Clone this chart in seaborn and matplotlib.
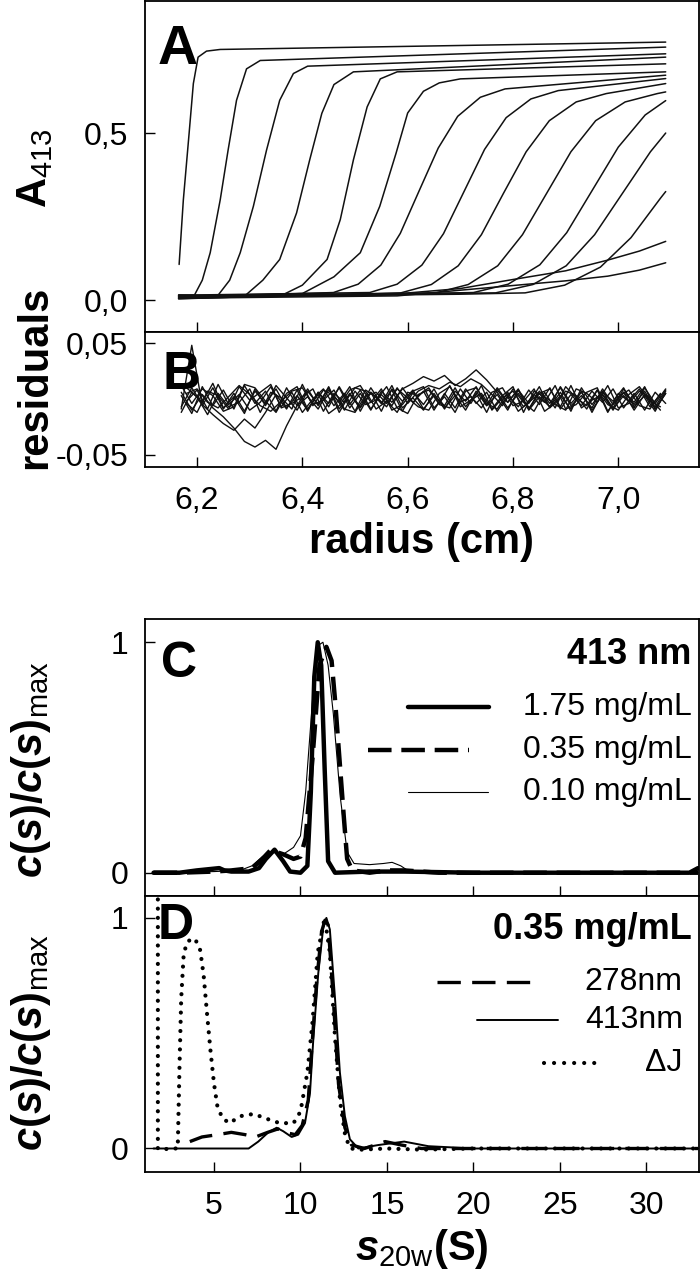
import numpy as np
import pandas as pd
import seaborn as sns
import matplotlib.pyplot as plt

sns.set_theme(style='ticks')
plt.rcParams['font.family'] = ['Liberation Sans', 'DejaVu Sans']
plt.rcParams['mathtext.fontset'] = 'custom'
plt.rcParams['mathtext.rm'] = 'Liberation Sans'
plt.rcParams['mathtext.bf'] = 'Liberation Sans:bold'
plt.rcParams['mathtext.it'] = 'Liberation Sans:italic'
plt.rcParams['mathtext.bfit'] = 'Liberation Sans:italic:bold'
plt.rcParams['text.color'] = 'black'
plt.rcParams['axes.labelcolor'] = 'black'

# ---- panel A : sedimentation boundaries (radius in cm, A413) ----
scan01_r = [6.166, 6.174, 6.185, 6.193, 6.202, 6.218, 6.244, 7.09]
scan01_a = [0.107, 0.300, 0.500, 0.648, 0.727, 0.745, 0.750, 0.772]
scan02_r = [6.165, 6.195, 6.210, 6.225, 6.244, 6.259, 6.275, 6.294, 6.32, 7.09]
scan02_a = [0.014, 0.015, 0.060, 0.142, 0.300, 0.449, 0.598, 0.692, 0.717, 0.757]
scan03_r = [6.165, 6.240, 6.262, 6.282, 6.307, 6.332, 6.357, 6.383, 6.41, 7.09]
scan03_a = [0.006, 0.015, 0.060, 0.142, 0.281, 0.449, 0.598, 0.678, 0.700, 0.737]
scan04_r = [6.165, 6.290, 6.325, 6.357, 6.389, 6.414, 6.437, 6.460, 6.497, 7.09]
scan04_a = [0.016, 0.012, 0.060, 0.122, 0.261, 0.420, 0.559, 0.645, 0.683, 0.727]
scan05_r = [6.165, 6.360, 6.400, 6.447, 6.472, 6.497, 6.523, 6.548, 6.58, 7.09]
scan05_a = [0.004, 0.014, 0.045, 0.122, 0.241, 0.420, 0.578, 0.662, 0.683, 0.707]
scan06_r = [6.165, 6.400, 6.460, 6.510, 6.547, 6.578, 6.600, 6.630, 6.660, 6.70, 7.09]
scan06_a = [0.012, 0.020, 0.070, 0.142, 0.281, 0.440, 0.560, 0.625, 0.650, 0.662, 0.683]
scan07_r = [6.165, 6.459, 6.506, 6.549, 6.586, 6.622, 6.658, 6.695, 6.738, 6.785, 7.09]
scan07_a = [0.008, 0.023, 0.048, 0.105, 0.200, 0.328, 0.455, 0.550, 0.607, 0.632, 0.673]
scan08_r = [6.165, 6.528, 6.580, 6.627, 6.668, 6.707, 6.746, 6.787, 6.834, 6.886, 7.09]
scan08_a = [0.015, 0.023, 0.048, 0.105, 0.199, 0.325, 0.451, 0.546, 0.602, 0.627, 0.663]
scan09_r = [6.165, 6.587, 6.645, 6.696, 6.740, 6.782, 6.825, 6.869, 6.920, 6.977, 7.09]
scan09_a = [0.005, 0.022, 0.047, 0.103, 0.196, 0.320, 0.444, 0.537, 0.593, 0.618, 0.648]
scan10_r = [6.165, 6.654, 6.715, 6.771, 6.818, 6.864, 6.910, 6.957, 7.013, 7.074, 7.09]
scan10_a = [0.011, 0.022, 0.047, 0.103, 0.196, 0.320, 0.444, 0.537, 0.593, 0.618, 0.623]
scan11_r = [6.165, 6.725, 6.791, 6.851, 6.902, 6.951, 7.000, 7.051, 7.09]
scan11_a = [0.007, 0.023, 0.048, 0.106, 0.202, 0.330, 0.458, 0.554, 0.597]
scan12_r = [6.165, 6.767, 6.838, 6.901, 6.955, 7.008, 7.061, 7.09]
scan12_a = [0.013, 0.022, 0.047, 0.103, 0.196, 0.320, 0.444, 0.500]
scan13_r = [6.165, 6.700, 6.823, 6.898, 6.966, 7.024, 7.080, 7.09]
scan13_a = [0.009, 0.018, 0.022, 0.045, 0.099, 0.187, 0.305, 0.325]
scan14_r = [6.165, 6.550, 6.700, 6.800, 6.900, 6.980, 7.040, 7.09]
scan14_a = [0.012, 0.015, 0.035, 0.062, 0.088, 0.120, 0.147, 0.176]
scan15_r = [6.165, 6.580, 6.700, 6.800, 6.900, 6.980, 7.040, 7.09]
scan15_a = [0.006, 0.013, 0.030, 0.044, 0.058, 0.072, 0.090, 0.112]

# ---- panel B : fit residuals (values in units of 0.001) ----
res_r = [6.17, 6.19, 6.21, 6.23, 6.25, 6.27, 6.29, 6.31, 6.33, 6.35, 6.37, 6.39,
         6.41, 6.43, 6.45, 6.47, 6.49, 6.51, 6.53, 6.55, 6.57, 6.59, 6.61, 6.63,
         6.65, 6.67, 6.69, 6.71, 6.73, 6.75, 6.77, 6.79, 6.81, 6.83, 6.85, 6.87,
         6.89, 6.91, 6.93, 6.95, 6.97, 6.99, 7.01, 7.03, 7.05, 7.07, 7.09]
res_r2 = [6.18, 6.20, 6.22, 6.24, 6.26, 6.28, 6.30, 6.32, 6.34, 6.36, 6.38, 6.40,
          6.42, 6.44, 6.46, 6.48, 6.50, 6.52, 6.54, 6.56, 6.58, 6.60, 6.62, 6.64,
          6.66, 6.68, 6.70, 6.72, 6.74, 6.76, 6.78, 6.80, 6.82, 6.84, 6.86, 6.88,
          6.90, 6.92, 6.94, 6.96, 6.98, 7.00, 7.02, 7.04, 7.06, 7.08]
res1 = [-9, 48, -6, 10, -9, 5, -11, 7, -4, 9, -8, 3, -10, 6, -7, 11, -5, 8, -9, 4,
        -6, 10, -3, 7, -10, 5, -8, 9, -4, 6, -11, 3, -7, 8, -5, 10, -9, 4, -6, 7,
        -3, 9, -8, 5, -10, 6, -4]
res2 = [6, -10, 4, -8, -16, -26, -38, -43, -37, -45, -24, -6, 9, -6, 11, -9, 5, -7,
        10, -4, 8, -11, 6, -5, 9, -8, 3, -10, 7, -6, 10, -3, 8, -9, 5, -7, 11, -4,
        6, -10, 4, -8, 9, -5, 7, -9, 5]
res3 = [-7, 10, -5, -14, -22, -28, -18, -26, -12, 4, -9, 8, -11, 6, -4, 10, -8, 5,
        -10, 7, -3, 9, 14, 20, 16, 21, 12, 18, 26, 17, 6, -8, 5, -9, 7, -4, 10, -6,
        3, -8, 9, -5, 6, -10, 4, -7, 8]
res4 = [12, -4, 9, 3, -11, -7, 13, 10, -2, -12, 5, 11, -9, 4, -13, -6, 8, 12, -3, 9,
        -10, -5, 7, 11, -8, 2, -12, 7, 10, -4, -9, 6, -11, -3, 5, 9, -7, 12, -8, -1,
        4, -10, 6, -3, 11, -9, 5]
res5 = [-12, 6, -3, 14, -8, 2, -13, 9, -6, 12, 1, -10, 7, -5, 10, -12, 4, -8, 6,
        -11, 9, -2, 8, -9, 3, -6, 10, -7, 5, -12, 8, -3, 9, -10, 2, -7, 6, -11, 10,
        -5, 7, -9, 3, -8, 10, -4, 9]
res6 = [3, -13, 11, -6, 8, -9, 12, -4, 7, -11, 10, -6, 2, -9, 8, -3, 11, -11, 6, -4,
        12, -8, 1, -10, 5, -9, 7, -2, 11, -6, 4, -10, 8, -4, 11, -8, 3, -9, 7, -12,
        6, -2, 10, -7, 3, -11, 7]
res7 = [5, 9, -3, -8, 2, 12, 4, -6, -11, -2, 7, 10, -5, -1, 8, -9, -12, 3, 6, -4,
        9, 1, -7, -10, 5, 11, -3, 2, -8, 6, 10, -6, -2, 9, -11, -4, 7, 3, -9, 8,
        -5, -10, 4, 11, -2, -7]
res8 = [-4, -12, 7, 3, -9, 11, -1, 6, 13, -8, -4, 2, 9, -11, 5, -3, 10, 7, -9, -2,
        -12, 6, 3, 10, -5, -8, 9, -4, 12, -10, 1, 7, -7, 4, -3, 12, -9, -5, 6, 10,
        -11, 2, 8, -6, -9, 5]
res9 = [10, 2, -14, 5, -7, -3, 9, -12, 6, 1, -9, 13, -6, 8, 3, -10, 7, -5, -1, 11,
        -8, -13, 4, 8, -4, 12, -7, -1, 5, -9, 3, 11, -12, 7, 2, -5, -10, 9, 5, -3,
        12, -8, -4, 7, 1, -10]
res10 = [-2, 8, -9, 13, -5, 4, -10, -3, 11, -7, 6, -12, 0, 9, -6, 5, -11, 8, 2, -7,
         10, -4, 7, 12, 9, 15, 11, 18, 13, 4, -6, 9, -3, -11, 6, -8, 11, 1, -6, 8,
         -12, 5, -2, 9, -7, 4]

# ---- panel C : c(s) at 413 nm, three loading concentrations ----
c175_s = [1.5, 3, 4, 5.3, 5.6, 6, 7, 7.6, 8.0, 8.5, 9.0, 9.4, 10.0, 10.4, 10.6, 10.8,
          11.0, 11.2, 11.4, 11.6, 12, 14, 16, 20, 25, 30, 32.5, 33]
c175_c = [0.0, 0.0, 0.01, 0.02, 0.01, 0.005, 0.005, 0.02, 0.06, 0.10, 0.05, 0.005,
          0.0, 0.03, 0.35, 0.85, 1.0, 0.9, 0.45, 0.05, 0.0, 0.005, 0.005, 0.0, 0.0,
          0.0, 0.0, 0.02]
c035_s = [1.5, 3, 5, 6, 7.2, 7.8, 8.3, 8.6, 9.0, 9.6, 10.0, 10.3, 10.7, 11.1, 11.5,
          11.8, 12.0, 12.3, 12.5, 12.7, 13.0, 14, 15, 16, 18, 20, 25, 30, 33]
c035_c = [0.0, 0.0, 0.005, 0.01, 0.02, 0.06, 0.10, 0.09, 0.08, 0.06, 0.07, 0.15,
          0.50, 0.90, 0.98, 0.92, 0.75, 0.45, 0.25, 0.06, 0.01, 0.0, 0.01, 0.01,
          0.0, 0.0, 0.0, 0.0, 0.0]
c010_s = [1.5, 5, 6.5, 7.2, 7.8, 8.3, 9.0, 9.6, 10.0, 10.3, 10.5, 10.8, 11.1, 11.3,
          11.6, 11.9, 12.3, 12.7, 13.1, 14.0, 14.8, 15.3, 15.8, 16.2, 18, 33]
c010_c = [0.0, 0.005, 0.01, 0.03, 0.07, 0.09, 0.08, 0.11, 0.16, 0.35, 0.55, 0.85,
          0.99, 1.0, 0.90, 0.69, 0.33, 0.09, 0.04, 0.035, 0.04, 0.045, 0.03, 0.01,
          0.0, 0.0]

# ---- panel D : c(s) at 0.35 mg/mL, three detection modes ----
d278_s = [3.6, 4.3, 5.2, 6.0, 6.8, 7.4, 8.1, 8.7, 9.1, 9.7, 10.1, 10.45, 10.65,
          10.93, 11.22, 11.42, 11.6, 11.9, 12.2, 12.57, 12.96, 13.7, 14.9, 15.85,
          17, 20, 25, 30, 33]
d278_c = [0.03, 0.05, 0.06, 0.07, 0.06, 0.05, 0.07, 0.085, 0.07, 0.06, 0.10, 0.21,
          0.43, 0.72, 0.94, 0.99, 0.97, 0.65, 0.28, 0.09, 0.015, 0.0, 0.03, 0.015,
          0.0, 0.0, 0.0, 0.0, 0.0]
d413_s = [1.5, 4, 7.0, 7.56, 8.14, 8.62, 9.0, 9.49, 9.87, 10.26, 10.55, 10.74, 11.03,
          11.32, 11.5, 11.7, 12.0, 12.28, 12.57, 12.86, 13.35, 14.5, 16.0, 17.4,
          20, 25, 30, 33]
d413_c = [0.0, 0.0, 0.0, 0.03, 0.07, 0.09, 0.075, 0.05, 0.06, 0.11, 0.24, 0.47,
          0.76, 0.96, 1.0, 0.95, 0.65, 0.33, 0.14, 0.04, 0.0, 0.015, 0.03, 0.01,
          0.0, 0.0, 0.0, 0.0]
dJ_s = [1.75, 1.75, 1.9, 2.5, 2.9, 3.0, 3.1, 3.25, 3.5, 3.9, 4.2, 4.4, 4.6, 4.8,
        5.0, 5.2, 5.5, 5.9, 6.5, 7.3, 8.0, 8.8, 9.6, 10.0, 10.4, 10.7, 11.0, 11.4,
        11.7, 12.0, 12.3, 12.6, 12.9, 13.5, 15, 17, 20, 25, 30, 33]
dJ_c = [1.12, 0.0, -0.005, 0.0, 0.0, 0.35, 0.65, 0.85, 0.90, 0.91, 0.86, 0.75,
        0.58, 0.42, 0.28, 0.18, 0.13, 0.11, 0.14, 0.15, 0.13, 0.11, 0.11, 0.16,
        0.33, 0.55, 0.85, 1.0, 0.85, 0.48, 0.20, 0.05, 0.0, -0.005, 0.0, -0.005,
        0.0, 0.0, 0.0, 0.0]

fig = plt.figure(figsize=(7, 12.72), dpi=100)
axA = fig.add_axes([0.207, 0.739, 0.7914, 0.2605])
axB = fig.add_axes([0.207, 0.6329, 0.7914, 0.1061])
axC = fig.add_axes([0.207, 0.2956, 0.7914, 0.2178])
axD = fig.add_axes([0.207, 0.0786, 0.7914, 0.2170])

scans = [(scan01_r, scan01_a), (scan02_r, scan02_a), (scan03_r, scan03_a),
         (scan04_r, scan04_a), (scan05_r, scan05_a), (scan06_r, scan06_a),
         (scan07_r, scan07_a), (scan08_r, scan08_a), (scan09_r, scan09_a),
         (scan10_r, scan10_a), (scan11_r, scan11_a), (scan12_r, scan12_a),
         (scan13_r, scan13_a), (scan14_r, scan14_a), (scan15_r, scan15_a)]
for r, a in scans:
    sns.lineplot(x=r, y=a, ax=axA, estimator=None, sort=False, color='#111111', lw=1.1)

for res in [res1, res2, res3, res4, res5, res6]:
    sns.lineplot(x=res_r, y=np.array(res) / 1000, ax=axB, estimator=None, sort=False,
                 color='#111111', lw=1.0)
for res in [res7, res8, res9, res10]:
    sns.lineplot(x=res_r2, y=np.array(res) / 1000, ax=axB, estimator=None, sort=False,
                 color='#111111', lw=1.0)

sns.lineplot(x=c175_s, y=c175_c, ax=axC, estimator=None, sort=False, color='black', lw=3.2)
sns.lineplot(x=c035_s, y=c035_c, ax=axC, estimator=None, sort=False, color='black', lw=3.2,
             linestyle=(0, (5.3, 2.2)))
sns.lineplot(x=c010_s, y=c010_c, ax=axC, estimator=None, sort=False, color='black', lw=0.8)

sns.lineplot(x=d278_s, y=d278_c, ax=axD, estimator=None, sort=False, color='black', lw=2.4,
             linestyle=(0, (7, 3.4)))
sns.lineplot(x=d413_s, y=d413_c, ax=axD, estimator=None, sort=False, color='black', lw=1.4)
sns.lineplot(x=dJ_s, y=dJ_c, ax=axD, estimator=None, sort=False, color='black', lw=3.0,
             linestyle=(0, (0.01, 2.2)), dash_capstyle='round')

# axes cosmetics
for ax in [axA, axB, axC, axD]:
    for sp in ax.spines.values():
        sp.set_linewidth(1.3)
        sp.set_color('black')
    ax.tick_params(direction='in', length=7, width=1.0, labelsize=23, pad=12, colors='black')
    ax.set_xlabel('')
    ax.set_ylabel('')

axA.set_xlim(6.101, 7.153)
axB.set_xlim(6.101, 7.153)
axA.set_ylim(-0.095, 0.896)
axB.set_ylim(-0.0608, 0.0599)
radius_ticks = [6.2, 6.4, 6.6, 6.8, 7.0]
axA.set_xticks(radius_ticks)
axA.set_xticklabels([])
axB.set_xticks(radius_ticks)
axB.set_xticklabels(['6,2', '6,4', '6,6', '6,8', '7,0'])
axA.set_yticks([0.0, 0.5])
axA.set_yticklabels(['0,0', '0,5'])
axB.set_yticks([-0.05, 0.05])
axB.set_yticklabels(['-0,05', '0,05'])
axB.tick_params(axis='x', pad=14)

s_ticks = [5, 10, 15, 20, 25, 30]
for ax in [axC, axD]:
    ax.set_xlim(1.0, 33.05)
    ax.set_xticks(s_ticks)
    ax.set_yticks([0, 1])
    ax.set_yticklabels(['0', '1'])
axC.set_xticklabels([])
axC.set_ylim(-0.101, 1.101)
axD.set_ylim(-0.102, 1.095)
axD.tick_params(axis='x', pad=14)

axB.set_xlabel('radius (cm)', fontsize=30, fontweight='bold', labelpad=4)
axD.set_xlabel(r'$\mathbfit{s}_{\mathrm{20w}}\mathbf{(S)}$', fontsize=30, labelpad=4)

fig.text(0.05, 1 - 168 / 1272, r'$\mathbf{A}_{\mathrm{413}}$', rotation=90, fontsize=30,
         ha='center', va='center')
fig.text(0.05, 1 - 377 / 1272, 'residuals', rotation=90, fontsize=30, fontweight='bold',
         ha='center', va='center')
cs_label = r'$\mathbfit{c}\mathbf{(}\mathbfit{s}\mathbf{)/}\mathbfit{c}\mathbf{(}\mathbfit{s}\mathbf{)}_{\mathrm{max}}$'
fig.text(0.045, 1 - 770 / 1272, cs_label, rotation=90, fontsize=30, ha='center', va='center')
fig.text(0.045, 1 - 1043 / 1272, cs_label, rotation=90, fontsize=30, ha='center', va='center')

# panel letters
axA.text(0.023, 0.93, 'A', transform=axA.transAxes, fontsize=40, fontweight='bold', va='top')
axB.text(0.031, 0.87, 'B', transform=axB.transAxes, fontsize=38, fontweight='bold', va='top')
axC.text(0.029, 0.92, 'C', transform=axC.transAxes, fontsize=36, fontweight='bold', va='top')
axD.text(0.023, 0.975, 'D', transform=axD.transAxes, fontsize=36, fontweight='bold', va='top')

# legend, panel C
axC.text(0.987, 0.870, '413 nm', transform=axC.transAxes, fontsize=26, fontweight='bold',
         ha='right', va='center')
legC = [('1.75 mg/mL', 0.682, (0.475, 0.621), dict(lw=3.2)),
        ('0.35 mg/mL', 0.527, (0.403, 0.585), dict(lw=3.2, linestyle=(0, (5.3, 2.2)))),
        ('0.10 mg/mL', 0.375, (0.475, 0.619), dict(lw=0.8))]
for lab, y, (x0, x1), kw in legC:
    axC.plot([x0, x1], [y, y], transform=axC.transAxes, color='black', **kw)
    axC.text(0.987, y, lab, transform=axC.transAxes, fontsize=23, ha='right', va='center')

# legend, panel D
axD.text(0.987, 0.877, '0.35 mg/mL', transform=axD.transAxes, fontsize=26, fontweight='bold',
         ha='right', va='center')
legD = [('278nm', 0.688, (0.527, 0.706), dict(lw=2.4, linestyle=(0, (7, 3.4)))),
        ('413nm', 0.551, (0.599, 0.745), dict(lw=1.4)),
        ('\u0394J', 0.395, (0.720, 0.821), dict(lw=3.0, linestyle=(0, (0.01, 2.4)),
                                                 dash_capstyle='round'))]
for lab, y, (x0, x1), kw in legD:
    axD.plot([x0, x1], [y, y], transform=axD.transAxes, color='black', **kw)
    axD.text(0.971, y, lab, transform=axD.transAxes, fontsize=23, ha='right', va='center')

fig.savefig('out.png', dpi=100)
